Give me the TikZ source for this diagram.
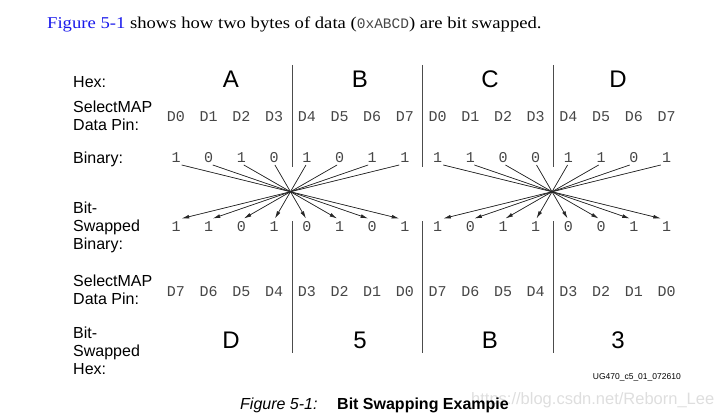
\documentclass[tikz,border=0pt]{standalone}
\usepackage{fontspec}
\setmainfont{Liberation Serif}
\setsansfont{Liberation Sans}
\setmonofont{Liberation Mono}
\newfontfamily\introfont[FakeStretch=1.13]{Liberation Serif}
\usetikzlibrary{arrows.meta}
\definecolor{linkblue}{RGB}{25,25,235}
\definecolor{ink}{RGB}{70,70,70}
\definecolor{wmark}{RGB}{222,222,222}
\begin{document}
\begin{tikzpicture}[x=1pt,y=-1pt,
  lbl/.style={font=\sffamily\fontsize{16}{17.8}\selectfont, align=left, anchor=north west, inner sep=0pt},
  hexd/.style={font=\sffamily\fontsize{24}{24}\selectfont, anchor=base, inner sep=0pt},
  mono/.style={font=\ttfamily\fontsize{15}{15}\selectfont, text=ink, anchor=base, inner sep=0pt},
  divider/.style={draw=black!70, line width=0.9pt},
  arr/.style={-{Latex[length=7.5pt,width=3.8pt]}, line width=0.7pt, draw=black!85, fill=black!85}]
\useasboundingbox (0,0) rectangle (716,419);

% intro sentence
\node[anchor=base west, inner sep=0pt, font=\introfont\fontsize{16.5}{16.5}\selectfont] (intro) at (47,28.3)
  {\textcolor{linkblue}{Figure 5-1} shows how two bytes of data ({\ttfamily\fontsize{14.5}{14.5}\selectfont\color{ink}0xABCD}) are bit swapped.};

% row labels
\node[lbl] (lhex)  at (73,76)  {Hex:};
\node[lbl] (lpin)  at (73,101) {SelectMAP\\Data Pin:};
\node[lbl] (lbin)  at (73,151.5) {Binary:};
\node[lbl] (lsbin) at (73,201.7) {Bit-\\Swapped\\Binary:};
\node[lbl] (lspin) at (73,275) {SelectMAP\\Data Pin:};
\node[lbl] (lshex) at (73,326.7) {Bit-\\Swapped\\Hex:};

% hex digits
\node[hexd] (hA) at (231,87.3) {A};
\node[hexd] (hB) at (360,87.3) {B};
\node[hexd] (hC) at (490,87.3) {C};
\node[hexd] (hD) at (618,87.3) {D};
\node[hexd] (sD) at (231,349) {D};
\node[hexd] (s5) at (360,349) {5};
\node[hexd] (sB) at (490,349) {B};
\node[hexd] (s3) at (618,349) {3};

% dividers
\foreach \n/\x in {1/292.5,2/422.7,3/553.3}{
  \coordinate (du\n) at (\x,65);
  \coordinate (dv\n) at (\x,167);
  \coordinate (dw\n) at (\x,221.5);
  \coordinate (dz\n) at (\x,353);
  \draw[divider] (du\n) -- (dv\n);
  \draw[divider] (dw\n) -- (dz\n);
}

% pins, bits and arrow end points
\foreach \k/\topbit/\botbit in {0/1/1,1/0/1,2/1/0,3/0/1,4/1/0,5/0/1,6/1/0,7/1/1,
                                8/1/1,9/1/0,10/0/1,11/0/1,12/1/0,13/1/0,14/0/1,15/1/1}{
  \pgfmathsetmacro\xk{176+32.7*\k}
  \pgfmathtruncatemacro\grp{\k/8}
  \pgfmathsetmacro\xc{290.45+261.6*\grp}
  \pgfmathsetmacro\xs{\xk+0.05*(\xc-\xk)}
  \pgfmathtruncatemacro\pp{mod(\k,8)}
  \pgfmathtruncatemacro\qq{7-\pp}
  \node[mono] (tp\k) at (\xk,122) {D\pp};
  \node[mono] (bp\k) at (\xk,297) {D\qq};
  \node[mono] (tb\k) at (\xk,163) {\topbit};
  \node[mono] (bb\k) at (\xk,231.5) {\botbit};
  \coordinate (s\k) at (\xs,165);
  \coordinate (e\k) at (\xs,218.5);
}

% swap arrows
\foreach \g in {0,1}{
  \foreach \i in {0,...,7}{
    \pgfmathtruncatemacro\kk{8*\g+\i}
    \pgfmathtruncatemacro\jj{8*\g+7-\i}
    \draw[arr] (s\kk) -- (e\jj);
  }
}

% figure id
\node[anchor=base east, inner sep=0pt, font=\sffamily\fontsize{8.5}{8.5}\selectfont] (figid) at (681,380) {UG470\_c5\_01\_072610};

% watermark and caption
\node[anchor=base west, inner sep=0pt, font=\sffamily\fontsize{16.5}{16.5}\selectfont, text=wmark] (wm) at (471,405) {https://blog.csdn.net/Reborn\_Lee};
\node[anchor=base west, inner sep=0pt, font=\sffamily\itshape\fontsize{16}{16}\selectfont] (capA) at (240,410) {Figure 5-1:};
\node[anchor=base west, inner sep=0pt, font=\sffamily\bfseries\fontsize{16}{16}\selectfont] (capB) at (337,410) {Bit Swapping Exampie};
\end{tikzpicture}
\end{document}
